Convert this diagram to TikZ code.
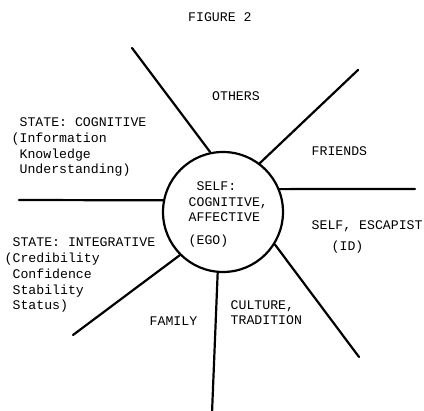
\documentclass[tikz,border=0pt]{standalone}
\usepackage{fontspec}
\setmonofont{Liberation Mono}
\begin{document}
\begin{tikzpicture}[x=1pt,y=-1pt,
  spoke/.style={line width=2.2pt, line cap=round},
  lbl/.style={font=\ttfamily\fontsize{13.2}{15.8}\selectfont, inner sep=0pt, anchor=base west, align=left},
  hub/.style={circle, draw, line width=2.2pt, minimum size=120pt, inner sep=0pt}]
\useasboundingbox (0,0) rectangle (424,411);
\fill[white] (0,0) rectangle (424,411);
% hub
\node[hub] (self) at (223,212) {};
% free ends
\coordinate (p1) at (132,48);
\coordinate (p2) at (358,70);
\coordinate (p3) at (415,189);
\coordinate (p4) at (19,200);
\coordinate (p5) at (73,335);
\coordinate (p6) at (212,413);
\coordinate (p7) at (359,357);
% spokes
\draw[spoke] (self.102) -- (p1);
\draw[spoke] (self.53.5) -- (p2);
\draw[spoke] (self.22) -- (p3);
\draw[spoke] (self.169) -- (p4);
\draw[spoke] (self.225.6) -- (p5);
\draw[spoke] (self.265.3) -- (p6);
\draw[spoke] (self.328.6) -- (p7);
% labels (base anchor = baseline of last line)
\node[lbl] (title) at (188,22) {FIGURE 2};
\node[lbl] (others) at (212,101) {OTHERS};
\node[lbl] (cog) at (11.5,174) {\hphantom{(}STATE: COGNITIVE\\(Information\\\hphantom{(}Knowledge\\\hphantom{(}Understanding)};
\node[lbl] (friends) at (311.5,156) {FRIENDS};
\node[lbl] (selftext) at (188.5,245) {\hphantom{(}SELF:\\COGNITIVE,\\AFFECTIVE\\[7.2pt](EGO)};
\node[lbl] (escapist) at (311.5,251) {SELF, ESCAPIST\\[6pt]\hspace*{20pt}(ID)};
\node[lbl] (integ) at (4.5,310) {\hphantom{(}STATE: INTEGRATIVE\\(Credibility\\\hphantom{(}Confidence\\\hphantom{(}Stability\\\hphantom{(}Status)};
\node[lbl] (family) at (149.5,326) {FAMILY};
\node[lbl] (culture) at (230.5,325) {CULTURE,\\TRADITION};
\end{tikzpicture}
\end{document}
